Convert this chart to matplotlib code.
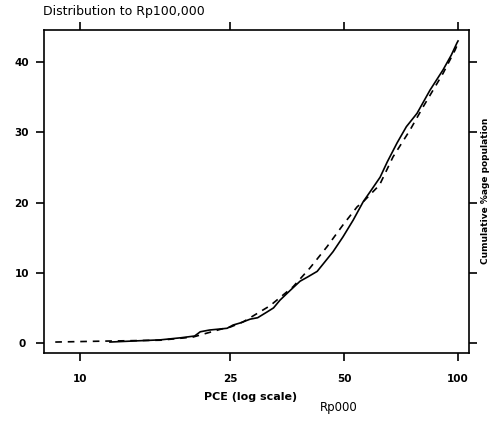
import matplotlib
matplotlib.use("Agg")
import matplotlib.pyplot as plt

# Data
solid_x = [12.0, 14.0, 16.3, 18.5, 20.1, 20.8, 22.0, 23.5, 24.5, 25.4, 26.5, 28.2, 29.5,
           31.2, 32.5, 33.8, 35.5, 38.2, 40.0, 42.4, 44.5, 46.7, 49.6, 52.8, 56.1, 59.0,
           62.2, 65.0, 69.0, 73.0, 77.9, 84.3, 91.3, 96.0, 99.3, 100.0]
solid_y = [0.14, 0.3, 0.45, 0.75, 1.0, 1.6, 1.85, 2.0, 2.1, 2.56, 2.85, 3.4, 3.6,
           4.4, 5.0, 6.1, 7.2, 8.8, 9.4, 10.2, 11.6, 13.0, 15.1, 17.5, 20.1, 21.8,
           23.6, 25.8, 28.5, 30.8, 32.7, 36.0, 38.9, 41.0, 42.7, 43.0]

dash_x = [8.6, 11.8, 16.3, 19.9, 23.7, 25.0, 27.0, 31.8, 36.6, 40.6, 45.0, 49.6, 54.1,
          56.1, 62.0, 67.3, 74.6, 80.8, 91.3, 98.2, 100.0]
dash_y = [0.14, 0.28, 0.4, 0.85, 2.0, 2.28, 3.0, 5.3, 8.0, 10.7, 13.7, 16.8, 19.4,
          20.1, 22.5, 26.5, 30.3, 33.6, 38.4, 41.7, 42.7]

x_ticks = [10, 25, 50, 100]
x_ticklabels = ["10", "25", "50", "100"]
y_ticks = [0, 10, 20, 30, 40]
y_ticklabels = ["0", "10", "20", "30", "40"]

W, H = 499, 421
fig = plt.figure(figsize=(W / 100, H / 100), dpi=100)
L, R, T, B = 44, 469, 30, 353
ax = fig.add_axes([L / W, 1 - B / H, (R - L) / W, (B - T) / H])

ax.plot(solid_x, solid_y, color="black", lw=1.2, solid_joinstyle="round")
ax.plot(dash_x, dash_y, color="black", lw=1.2, linestyle=(0, (4, 3.5)))

ax.set_xscale("log")
ax.set_xlim(8.03, 106.9)
ax.set_ylim(-1.42, 44.56)

ax.set_xticks(x_ticks)
ax.set_xticklabels(x_ticklabels, fontweight="bold", fontsize=7.5)
ax.xaxis.set_minor_locator(matplotlib.ticker.NullLocator())
ax.set_yticks(y_ticks)
ax.set_yticklabels(y_ticklabels, fontweight="bold", fontsize=7.5, ha="center")

ax.tick_params(axis="both", which="major", direction="out", length=6, width=1.2,
               top=True, right=True, labeltop=False, labelright=False)
ax.tick_params(axis="x", pad=9)
ax.tick_params(axis="y", pad=10)

for s in ax.spines.values():
    s.set_linewidth(1.2)

fig.text(43 / W, 1 - 12 / H, "Distribution to Rp100,000", fontsize=9,
         ha="left", va="center")
fig.text(251 / W, 1 - 397 / H, "PCE (log scale)", fontsize=8, fontweight="bold",
         ha="center", va="center")
fig.text(339 / W, 1 - 408 / H, "Rp000", fontsize=8.5, ha="center", va="center")
fig.text(485 / W, 1 - 191 / H, "Cumulative %age population", fontsize=6.5,
         fontweight="bold", rotation=90, ha="center", va="center")

fig.savefig("out.png", dpi=100)
